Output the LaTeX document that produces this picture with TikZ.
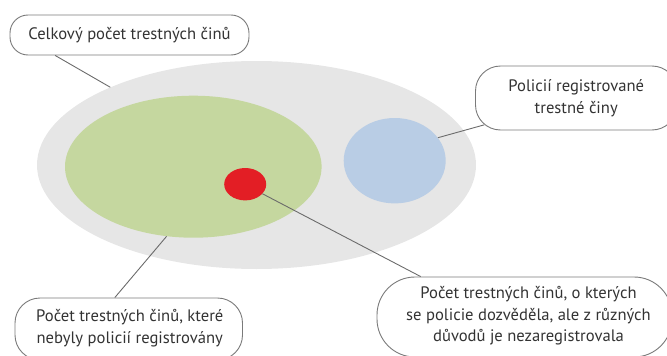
\documentclass[tikz,border=0pt]{standalone}
\usepackage{fontspec}
\setmainfont{PT Sans}
\usetikzlibrary{shapes.geometric,calc}
\definecolor{ellgray}{HTML}{E6E6E6}
\definecolor{ellgreen}{HTML}{C5D79F}
\definecolor{ellblue}{HTML}{B9CDE5}
\definecolor{ellred}{HTML}{E31E25}
\definecolor{linegray}{HTML}{6B6B6B}
\definecolor{boxgray}{HTML}{7A7A7A}
\definecolor{txt}{HTML}{333333}
\tikzset{
  blob/.style={ellipse,inner sep=0pt,draw=none},
  conn/.style={draw=linegray,line width=0.9pt},
  frame/.style={draw=boxgray,fill=white,line width=0.9pt,inner sep=0pt},
  label/.style={align=center,text=txt,inner sep=0pt,font=\fontsize{16.6}{21.5}\selectfont},
}
\begin{document}
\begin{tikzpicture}[x=1pt,y=-1pt]
\useasboundingbox (0,0) rectangle (667,356);
\clip (0,0) rectangle (667,356);
% ellipses
\node[blob,fill=ellgray,minimum width=439pt,minimum height=208pt] (gray) at (256.5,165) {};
\node[blob,fill=ellgreen,minimum width=256.6pt,minimum height=142pt] (green) at (193.3,166.7) {};
\node[blob,fill=ellblue,minimum width=102pt,minimum height=85.4pt] (blue) at (394.7,160.7) {};
\node[blob,fill=ellred,minimum width=42pt,minimum height=32.4pt] (red) at (245.2,184.2) {};
% callout frames
\node[frame,rounded corners=18pt,minimum width=239pt,minimum height=40pt] (b1) at (129.5,35) {};
\node[frame,rounded corners=25pt,minimum width=201.5pt,minimum height=64pt] (b2) at (576.25,98) {};
\node[frame,rounded corners=25pt,minimum width=227.5pt,minimum height=62pt] (b3) at (128.75,329) {};
\node[frame,rounded corners=38pt,minimum width=295pt,minimum height=80pt] (b4) at (524.5,317) {};
% texts
\node[label] (t1) at (b1) {Celkový počet trestných činů};
\node[label] (t2) at (b2) {Policií registrované\\trestné činy};
\node[label] (t3) at ($(b3)+(1,-1)$) {Počet trestných činů, které\\nebyly policií registrovány};
\node[label] (t4) at ($(b4)+(4,-1)$) {Počet trestných činů, o kterých\\se policie dozvěděla, ale z různých\\důvodů je nezaregistrovala};
% connectors
\draw[conn] (gray.152.1) -- ($(b1.south west)!0.19!(b1.south east)$);
\draw[conn] (blue.28.4) -- ($(b2.south west)+(9.2,-5.6)$);
\draw[conn] (green.249.4) -- ($(b3.north west)!0.439!(b3.north east)$);
\draw[conn] (red.-29.7) -- ($(b4.north west)!0.149!(b4.north east)$);
\end{tikzpicture}
\end{document}
